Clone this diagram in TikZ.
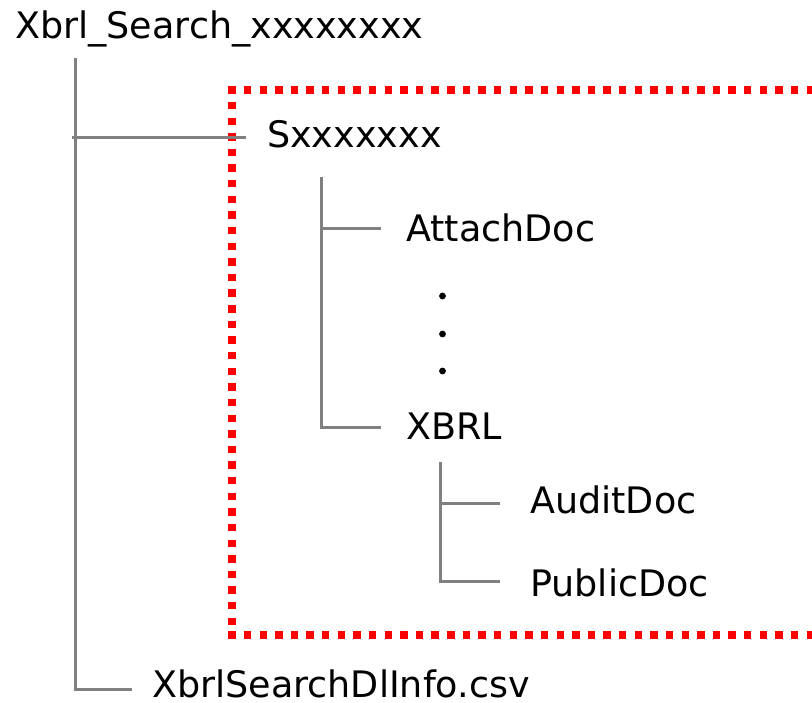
\documentclass[tikz,border=0pt]{standalone}
\usepackage{fontspec}
\setmainfont{DejaVu Sans}
\begin{document}
\begin{tikzpicture}[x=1pt,y=-1pt,
  lbl/.style={anchor=base west,inner sep=0pt,font=\fontsize{36.5}{40}\selectfont},
  tree/.style={draw=gray,line width=3pt},
  redbox/.style={draw=red,line width=7.4pt,dash pattern=on 7.4pt off 8.23pt},
  dotmark/.style={circle,fill=black,inner sep=0pt,minimum size=6.8pt}]
\useasboundingbox (0,0) rectangle (812,703);
\clip (0,0) rectangle (812,703);
% red dotted frame
\draw[redbox] (228.3,90) -- (830,90);
\draw[redbox] (232,86.3) -- (232,638.7);
\draw[redbox] (228.3,635) -- (830,635);
% labels
\node[lbl] (root) at (15,39) {Xbrl\_Search\_xxxxxxxx};
\node[lbl] (s) at (267,148) {Sxxxxxxx};
\node[lbl] (attach) at (406,242) {AttachDoc};
\node[lbl] (xbrl) at (406,440) {XBRL};
\node[lbl] (audit) at (530,513) {AuditDoc};
\node[lbl] (public) at (530,596) {PublicDoc};
\node[lbl] (csv) at (152,697) {XbrlSearchDlInfo.csv};
% ellipsis dots
\node[dotmark] (d1) at (442.5,296) {};
\node[dotmark] (d2) at (442.5,334) {};
\node[dotmark] (d3) at (442.5,371) {};
% tree connectors
\coordinate (t0) at (75,58);
\coordinate (t0s) at (72,137.5);
\coordinate (t0e) at (246,137.5);
\coordinate (t0c) at (132,689);
\draw[tree] (t0) |- (t0c);
\draw[tree] (t0s) -- (t0e);
\coordinate (t1) at (321,177);
\coordinate (t1a) at (381,229);
\coordinate (t1x) at (381,428);
\draw[tree] (t1) |- (t1x);
\draw[tree] (t1 |- t1a) -- (t1a);
\coordinate (t2) at (440,462);
\coordinate (t2a) at (500,503);
\coordinate (t2p) at (500,581);
\draw[tree] (t2) |- (t2p);
\draw[tree] (t2 |- t2a) -- (t2a);
\end{tikzpicture}
\end{document}
